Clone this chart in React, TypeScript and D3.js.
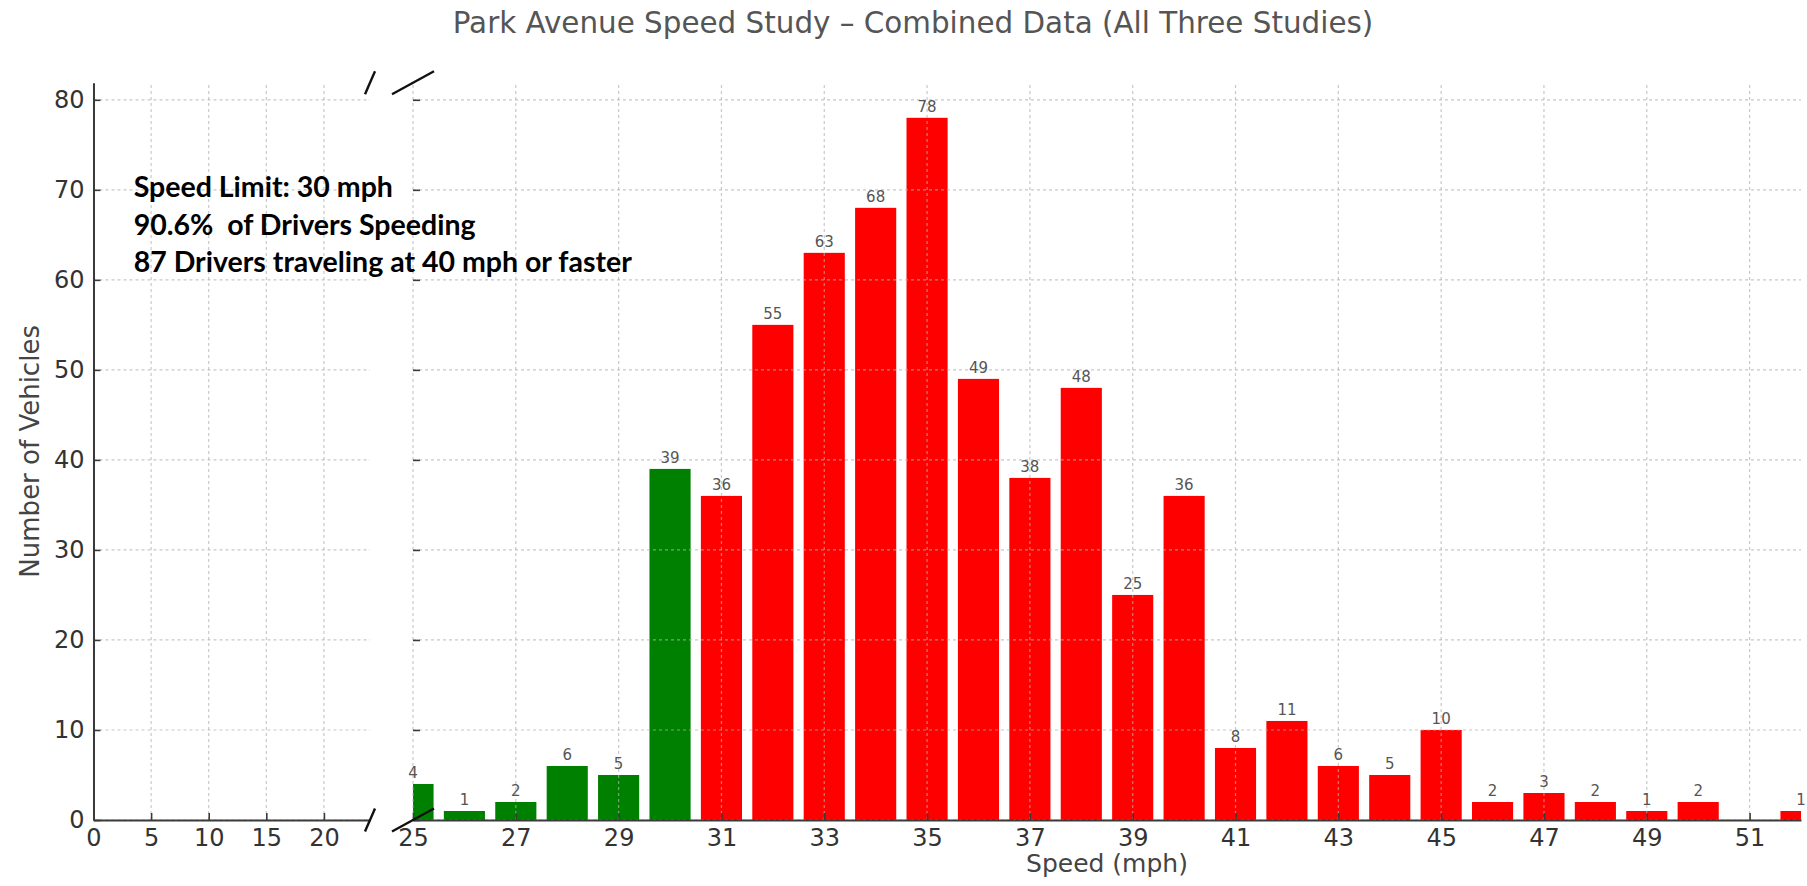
import React, { useEffect, useRef } from 'react';
import * as d3 from 'd3';

// speed (mph) -> vehicles, combined from all three studies (51 mph had none)
const speeds = [25, 26, 27, 28, 29, 30, 31, 32, 33, 34, 35, 36, 37, 38, 39, 40, 41, 42, 43, 44, 45, 46, 47, 48, 49, 50, 52];
const counts = [4, 1, 2, 6, 5, 39, 36, 55, 63, 68, 78, 49, 38, 48, 25, 36, 8, 11, 6, 5, 10, 2, 3, 2, 1, 2, 1];
const speedLimit = 30;

const leftTicks = [0, 5, 10, 15, 20];
const rightTicks = [25, 27, 29, 31, 33, 35, 37, 39, 41, 43, 45, 47, 49, 51];
const yTicks = [0, 10, 20, 30, 40, 50, 60, 70, 80];

const notes = [
  'Speed Limit: 30 mph',
  '90.6%  of Drivers Speeding',
  '87 Drivers traveling at 40 mph or faster',
];

const title = 'Park Avenue Speed Study \u2013 Combined Data (All Three Studies)';

const W = 1807;
const H = 886;
const FONT = "'DejaVu Sans', sans-serif";

const App: React.FC = () => {
  const svgRef = useRef<SVGSVGElement>(null);

  useEffect(() => {
    if (!svgRef.current) return;
    const svg = d3.select(svgRef.current);
    svg.selectAll('*').remove();

    // two panels share the y axis, x is broken between 24 and 25
    const y = d3.scaleLinear().domain([0, d3.max(counts)! * 1.05]).range([820, 82.7]);
    const xL = d3.scaleLinear().domain([0, 24]).range([93.5, 370]);
    const xR = d3.scaleLinear().domain([25, 52]).range([413, 1801]);
    const [y0, y1] = y.range();

    svg.append('defs').append('clipPath').attr('id', 'rclip')
      .append('rect')
      .attr('x', xR.range()[0]).attr('y', y1)
      .attr('width', xR.range()[1] - xR.range()[0]).attr('height', y0 - y1);

    // bars
    const bw = xR(0.8) - xR(0);
    const data = speeds.map((s, i) => ({ s, c: counts[i] }));
    const bars = svg.append('g').attr('clip-path', 'url(#rclip)');
    bars.selectAll('rect')
      .data(data)
      .enter()
      .append('rect')
      .attr('x', d => xR(d.s - 0.4))
      .attr('y', d => y(d.c))
      .attr('width', bw)
      .attr('height', d => y0 - y(d.c))
      .attr('fill', d => (d.s <= speedLimit ? '#008000' : '#ff0000'));

    // grid (drawn over the bars, as in the original)
    const grid = svg.append('g')
      .attr('stroke', '#b0b0b0')
      .attr('stroke-opacity', 0.7)
      .attr('stroke-width', 1.2)
      .attr('stroke-dasharray', '3,3');
    [[xL, leftTicks], [xR, rightTicks]].forEach(([sc, ticks]: any) => {
      grid.append('g').selectAll('line').data(ticks).enter().append('line')
        .attr('x1', (d: number) => sc(d)).attr('x2', (d: number) => sc(d))
        .attr('y1', y0).attr('y2', y1);
      grid.append('g').selectAll('line').data(yTicks).enter().append('line')
        .attr('x1', sc.range()[0]).attr('x2', sc.range()[1])
        .attr('y1', (d: number) => y(d)).attr('y2', (d: number) => y(d));
    });

    // value labels
    svg.append('g').selectAll('text')
      .data(data)
      .enter()
      .append('text')
      .attr('x', d => xR(d.s))
      .attr('y', d => y(d.c) - 6)
      .attr('text-anchor', 'middle')
      .attr('font-family', FONT)
      .attr('font-size', 15)
      .attr('fill', '#555')
      .text(d => d.c);

    // axes
    const styleAxis = (g: any) => {
      g.select('.domain').attr('stroke', '#3a3a3a').attr('stroke-width', 2);
      g.selectAll('.tick line').attr('stroke', '#3a3a3a').attr('stroke-width', 1.6);
      g.selectAll('.tick text').attr('fill', '#333').attr('font-family', FONT).attr('font-size', 24);
    };

    svg.append('g')
      .attr('transform', `translate(0,${y0})`)
      .call(d3.axisBottom(xL).tickValues(leftTicks).tickSize(-7).tickSizeOuter(0).tickPadding(9) as any)
      .call(styleAxis);

    svg.append('g')
      .attr('transform', `translate(0,${y0})`)
      .call(d3.axisBottom(xR).tickValues(rightTicks).tickSize(-7).tickSizeOuter(0).tickPadding(9) as any)
      .call(styleAxis);

    svg.append('g')
      .attr('transform', `translate(${xL.range()[0]},0)`)
      .call(d3.axisLeft(y).tickValues(yTicks).tickSize(-7).tickSizeOuter(0).tickPadding(9) as any)
      .call(styleAxis);

    const rAxis = svg.append('g')
      .attr('transform', `translate(${xR.range()[0]},0)`)
      .call(d3.axisLeft(y).tickValues(yTicks).tickSize(-7).tickFormat(() => '') as any)
      .call(styleAxis);
    rAxis.select('.domain').remove();

    // break marks
    const brk = svg.append('g').attr('stroke', '#111').attr('stroke-width', 2.4);
    [y0, y1].forEach(yy => {
      const lx = xL.range()[1];
      const rx = xR.range()[0];
      brk.append('line').attr('x1', lx - 5).attr('y1', yy + 11.5).attr('x2', lx + 5).attr('y2', yy - 11.5);
      brk.append('line').attr('x1', rx - 21).attr('y1', yy + 11.5).attr('x2', rx + 21).attr('y2', yy - 11.5);
    });

    // titles
    svg.append('text')
      .attr('x', 913).attr('y', 33)
      .attr('text-anchor', 'middle')
      .attr('font-family', FONT).attr('font-size', 29.4).attr('fill', '#555')
      .text(title);

    svg.append('text')
      .attr('x', (xR.range()[0] + xR.range()[1]) / 2).attr('y', 872)
      .attr('text-anchor', 'middle')
      .attr('font-family', FONT).attr('font-size', 25).attr('fill', '#444')
      .text('Speed (mph)');

    svg.append('text')
      .attr('transform', `translate(30,${(y0 + y1) / 2}) rotate(-90)`)
      .attr('text-anchor', 'middle')
      .attr('dominant-baseline', 'central')
      .attr('font-family', FONT).attr('font-size', 26).attr('fill', '#444')
      .text('Number of Vehicles');

    // annotation
    svg.append('g').selectAll('text')
      .data(notes)
      .enter()
      .append('text')
      .attr('x', 133.7)
      .attr('y', (_, i) => 197 + i * 37.5)
      .attr('font-family', "Lato, 'Open Sans', sans-serif")
      .attr('font-weight', 700)
      .attr('font-size', 28.5)
      .attr('fill', '#000')
      .style('white-space', 'pre')
      .text(d => d);
  }, []);

  return (
    <div style={{ position: 'absolute', left: 0, top: 0 }}>
      <svg ref={svgRef} width={W} height={H} style={{ display: 'block', background: '#fff' }} />
    </div>
  );
};

export default App;
